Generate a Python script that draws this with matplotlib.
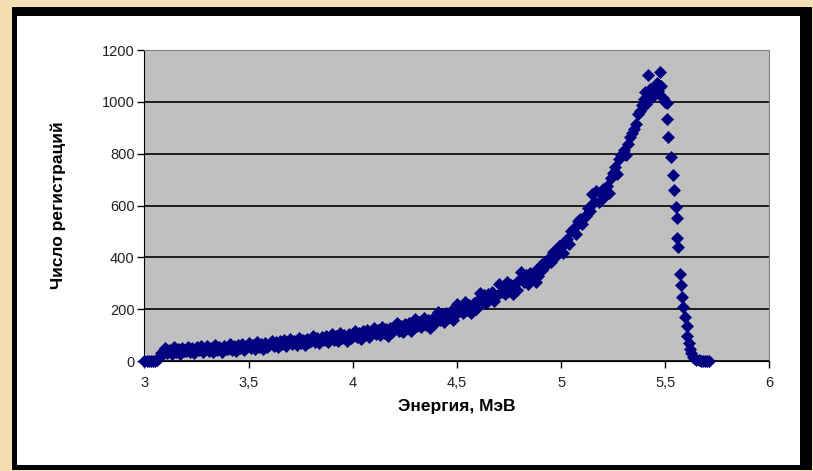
import numpy as np
import matplotlib
matplotlib.use('Agg')
import matplotlib.pyplot as plt
from matplotlib.patches import Rectangle

plt.rcParams['font.family'] = ['Liberation Sans', 'DejaVu Sans']

##-----------------------data--------------------------------##
# spectrum, from 3.00 MeV with step 0.01 MeV
e_start = 3.00
e_step = 0.01
counts_low = [
    0, 0, 0, 2, 0, 0, 3, 12, 30, 40,
    50, 32, 43, 28, 54, 35, 47, 27, 51, 37,
    38, 56, 34, 49, 30, 53, 42, 57, 35, 48,
    58, 40, 51, 36, 62, 43, 55, 35, 59, 45,
    47, 65, 43, 58, 39, 62, 51, 66, 44, 57,
    69, 51, 62, 47, 73, 54, 66, 46, 70, 56,
    61, 79, 57, 72, 53, 76, 65, 80, 58, 71,
    85, 67, 78, 63, 89, 70, 82, 62, 86, 72,
    78, 96, 74, 89, 70, 93, 82, 97, 75, 88,
    105, 83, 97, 79, 110, 87, 101, 77, 106, 89,
    96, 117, 91, 109, 86, 114, 101, 119, 92, 108,
    128, 105, 119, 99, 133, 108, 124, 98, 129, 111,
    121, 145, 116, 136, 111, 141, 126, 146, 117, 134,
    161, 136, 151, 130, 167, 140, 157, 129, 162, 143,
    163, 190, 157, 180, 151, 186, 169, 192, 159, 178,
    221, 192, 210, 186, 227, 197, 216, 184, 223, 200,
    235, 264, 229, 253, 223, 259, 242, 266, 231, 251,
    297, 266, 285, 260, 304, 272, 292, 258, 299, 275,
    311, 344, 304, 331, 297, 338, 318, 345, 306, 329,
    365, 350, 382, 372, 398, 384, 420, 400, 425, 445,
    440, 418, 462, 470, 452, 500, 515, 490, 540, 548,
    530, 555, 560, 590, 580, 645, 615, 655, 612, 650,
    662, 635, 676, 650, 708, 725, 748, 722, 778, 795,
    815, 795, 838, 865, 880, 895, 915, 955, 965, 988,
]
# peak and falling edge
energy_peak = [5.400, 5.403, 5.410, 5.419, 5.425, 5.435, 5.440, 5.450, 5.459, 5.465,
               5.475, 5.480, 5.491, 5.500, 5.507, 5.507, 5.515, 5.528, 5.536, 5.542,
               5.552, 5.555, 5.558, 5.563, 5.571, 5.574, 5.579, 5.587, 5.595, 5.603,
               5.606, 5.612, 5.619, 5.625, 5.633, 5.640, 5.650, 5.660, 5.670, 5.680,
               5.690, 5.700, 5.710]
counts_peak = [1010, 1039, 990, 1103, 1050, 1020, 1045, 1030, 1071, 1040,
               1116, 1060, 1013, 1000, 994, 932, 863, 788, 718, 660,
               593, 551, 473, 441, 336, 293, 248, 207, 171, 135,
               96, 70, 48, 30, 17, 10, 5, 3, 2, 0,
               1, 0, 0]

energy_low = np.round(e_start + e_step * np.arange(len(counts_low)), 3)
energy = np.concatenate([energy_low, energy_peak])
counts = np.concatenate([counts_low, counts_peak])

x_ticks = [3, 3.5, 4, 4.5, 5, 5.5, 6]
x_labels = ['3', '3,5', '4', '4,5', '5', '5,5', '6']
y_ticks = [0, 200, 400, 600, 800, 1000, 1200]

###draw
fig = plt.figure(figsize=(8.13, 4.71), dpi=100, facecolor='#F4DDB2')
# black frame + white chart area
fig.patches.append(Rectangle((0.0148, 0.0021), 0.984, 0.983, transform=fig.transFigure,
                             facecolor='black', edgecolor='none', zorder=-2))
fig.patches.append(Rectangle((0.0209, 0.0127), 0.9631, 0.9533, transform=fig.transFigure,
                             facecolor='white', edgecolor='none', zorder=-1))

ax = fig.add_axes([0.1777, 0.2335, 0.7686, 0.6603])
ax.set_facecolor('#C0C0C0')
ax.plot(energy, counts, linestyle='none', marker='D', ms=6, color='#000080',
        markeredgecolor='#000080', markeredgewidth=0.5, clip_on=False, zorder=3)

ax.set_xlim(3, 6)
ax.set_ylim(0, 1200)
ax.set_xticks(x_ticks)
ax.set_xticklabels(x_labels)
ax.set_yticks(y_ticks)
ax.grid(axis='y', color='black', lw=1.2)
ax.set_axisbelow(True)

for s in ['top', 'right']:
    ax.spines[s].set_color('#808080')
ax.spines['left'].set_color('black')
ax.spines['bottom'].set_color('black')
ax.tick_params(direction='out', length=5, width=1, color='black',
               labelsize=10.5, labelcolor='#222222')
ax.tick_params(axis='x', pad=6)
ax.tick_params(axis='y', pad=2)

ax.set_xlabel('Энергия, МэВ', fontsize=12.5, fontweight='bold', labelpad=6)
ax.set_ylabel('Число регистраций', fontsize=12.5, fontweight='bold', labelpad=26)

fig.savefig('out.png', dpi=100, facecolor=fig.get_facecolor())
print('done')
